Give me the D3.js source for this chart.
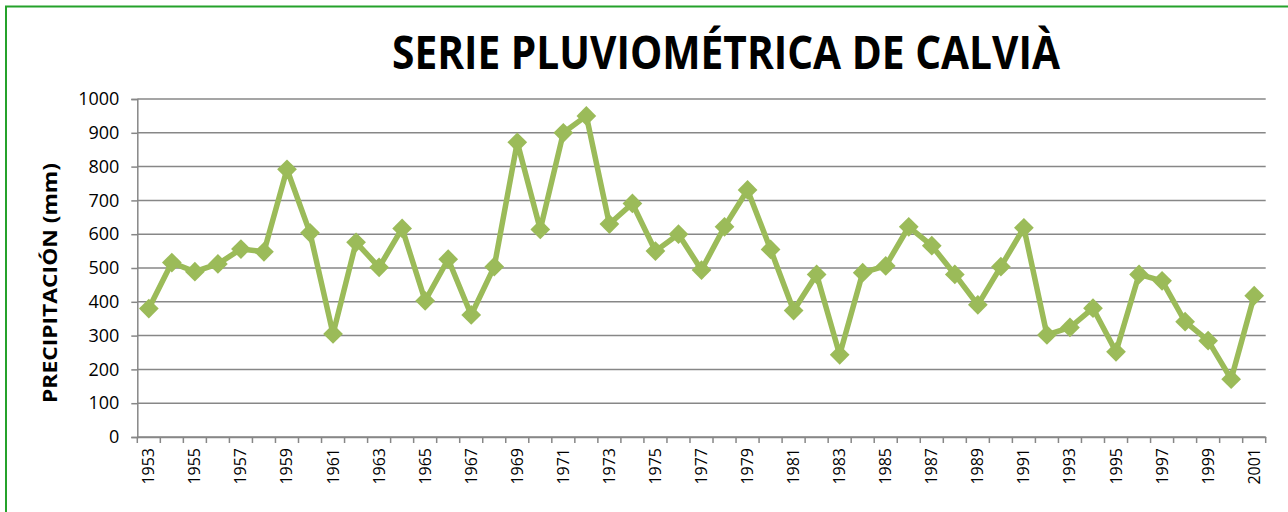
<!DOCTYPE html>
<html>
<head>
<meta charset="utf-8">
<script src="https://cdn.jsdelivr.net/npm/d3@7/dist/d3.min.js"></script>
<style>
  html, body { margin: 0; padding: 0; background: #fff; }
  svg { display: block; }
</style>
</head>
<body>
<svg id="chart" width="1288" height="512"></svg>
<script>
const years = d3.range(1953, 2002);
const precipitation = [
  380, 516, 489, 512, 556, 548, 792, 604, 305, 576,
  502, 617, 403, 526, 361, 504, 872, 614, 900, 950,
  630, 691, 550, 600, 494, 622, 731, 555, 374, 481,
  243, 486, 506, 622, 566, 481, 391, 504, 619, 302,
  324, 381, 252, 481, 462, 341, 285, 171, 418
];
const yTicks = [0, 100, 200, 300, 400, 500, 600, 700, 800, 900, 1000];
const xTickLabels = years.filter((d, i) => i % 2 === 0);
const titleText = "SERIE PLUVIOMÉTRICA DE CALVIÀ";
const yTitle = "PRECIPITACIÓN (mm)";

const svg = d3.select("#chart");
const plotLeft = 137.3, plotRight = 1265.7, plotTop = 99, plotBottom = 437;

const x = d3.scaleBand().domain(years).range([plotLeft, plotRight]).padding(0);
const y = d3.scaleLinear().domain([0, 1000]).range([plotBottom, plotTop]);

// border
svg.append("rect")
  .attr("x", 6).attr("y", 6.5)
  .attr("width", 1400).attr("height", 600)
  .attr("fill", "none").attr("stroke", "#25a22b").attr("stroke-width", 2);

// title
svg.append("text")
  .attr("x", 726).attr("y", 69)
  .attr("text-anchor", "middle")
  .attr("font-family", "Open Sans, sans-serif")
  .attr("font-weight", "bold")
  .attr("font-size", 46)
  .attr("textLength", 668)
  .attr("lengthAdjust", "spacingAndGlyphs")
  .attr("fill", "#000")
  .text(titleText);

// gridlines
svg.append("g")
  .selectAll("line")
  .data(yTicks)
  .join("line")
  .attr("x1", plotLeft).attr("x2", plotRight)
  .attr("y1", d => y(d)).attr("y2", d => y(d))
  .attr("stroke", "#878787").attr("stroke-width", 1.5);

// y axis
const yAxis = svg.append("g")
  .attr("transform", `translate(${plotLeft},0)`)
  .call(d3.axisLeft(y).tickValues(yTicks).tickSize(6).tickPadding(12).tickFormat(d3.format("d")));
yAxis.select(".domain").attr("stroke", "#878787").attr("stroke-width", 1.5);
yAxis.selectAll(".tick line").attr("stroke", "#878787").attr("stroke-width", 1.5);
yAxis.selectAll(".tick text")
  .attr("font-family", "Open Sans, sans-serif")
  .attr("font-size", 18)
  .attr("fill", "#000");

// x axis (labels)
const xAxis = svg.append("g")
  .attr("transform", `translate(0,${plotBottom})`)
  .call(d3.axisBottom(x).tickValues(xTickLabels).tickSize(0).tickPadding(0));
xAxis.select(".domain").attr("stroke", "#878787").attr("stroke-width", 1.5);
xAxis.selectAll(".tick text")
  .attr("font-family", "Open Sans, sans-serif")
  .attr("font-size", 16)
  .attr("fill", "#000")
  .attr("text-anchor", "end")
  .attr("dy", null)
  .attr("y", 0)
  .attr("transform", "translate(5.5,11) rotate(-90)");

// x tick marks at band edges
const edges = years.map(d => x(d)).concat([plotRight]);
svg.append("g")
  .selectAll("line")
  .data(edges)
  .join("line")
  .attr("x1", d => d).attr("x2", d => d)
  .attr("y1", plotBottom).attr("y2", plotBottom + 6)
  .attr("stroke", "#878787").attr("stroke-width", 1.5);

// y axis title
svg.append("text")
  .attr("transform", "translate(57,283) rotate(-90)")
  .attr("text-anchor", "middle")
  .attr("font-family", "Open Sans, sans-serif")
  .attr("font-weight", "bold")
  .attr("font-size", 20)
  .attr("textLength", 240)
  .attr("lengthAdjust", "spacingAndGlyphs")
  .attr("fill", "#000")
  .text(yTitle);

// line
const cx = d => x(d) + x.bandwidth() / 2;
const data = years.map((yr, i) => ({ yr, v: precipitation[i] }));
svg.append("path")
  .datum(data)
  .attr("fill", "none")
  .attr("stroke", "#9bbb59")
  .attr("stroke-width", 5.5)
  .attr("stroke-linejoin", "round")
  .attr("d", d3.line().x(d => cx(d.yr)).y(d => y(d.v)));

// markers
svg.append("g")
  .selectAll("path")
  .data(data)
  .join("path")
  .attr("d", d3.symbol().type(d3.symbolSquare).size(195))
  .attr("transform", d => `translate(${cx(d.yr)},${y(d.v)}) rotate(45)`)
  .attr("fill", "#9bbb59");
</script>
</body>
</html>
